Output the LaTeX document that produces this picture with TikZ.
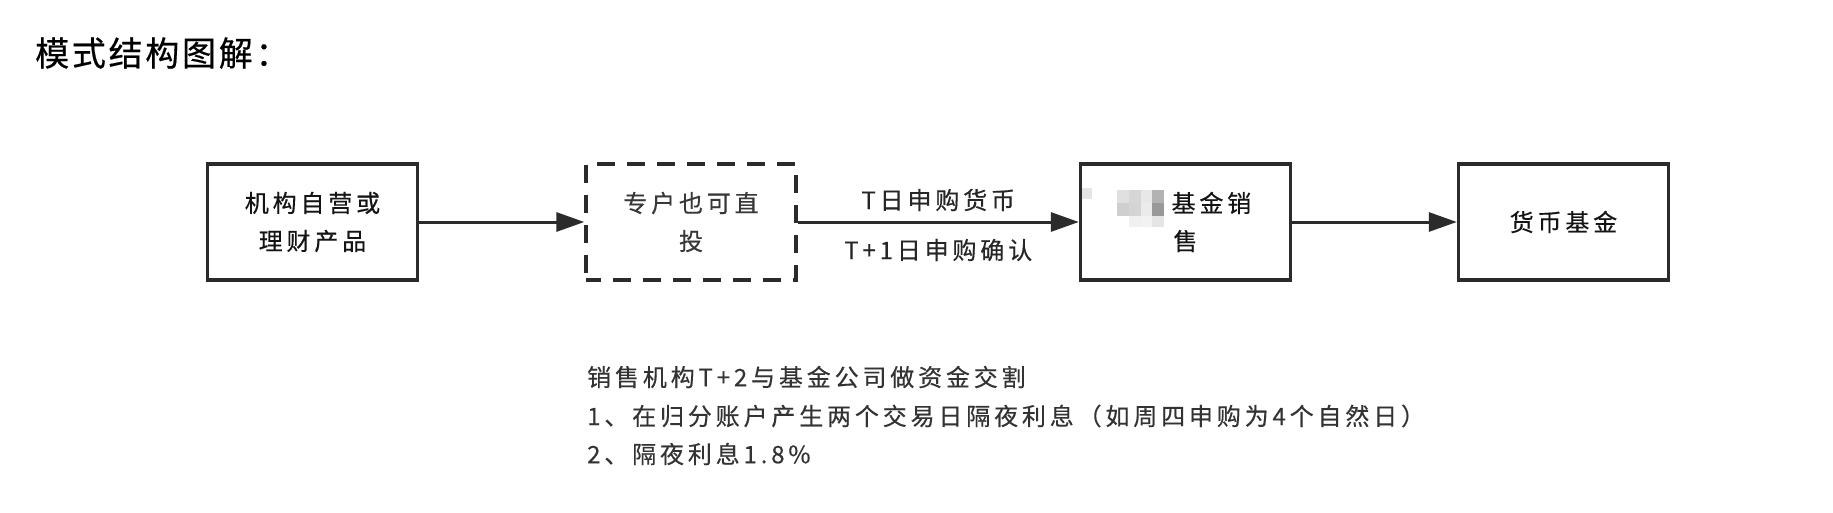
\documentclass[tikz,border=0pt]{standalone}
\usepackage{fontspec}
\newfontfamily\cjk{Noto Sans CJK SC}
\newfontfamily\cjksp{Noto Sans CJK SC}[LetterSpace=16,FakeBold=0.4]
\newfontfamily\cjkti{Noto Sans CJK SC}[LetterSpace=8,FakeBold=0.5]
\usetikzlibrary{arrows.meta}
\definecolor{boxc}{HTML}{2B2B2B}
\begin{document}
\begin{tikzpicture}[x=1pt,y=-1pt,
  box/.style={draw=boxc, line width=3.4pt, minimum width=210pt, minimum height=116pt, inner sep=0pt, align=center, font=\cjksp\fontsize{24}{38}\selectfont, text=black!92},
  dbox/.style={box, dash pattern=on 18pt off 12pt, dash phase=3pt, text=black!78},
  conn/.style={draw=boxc, line width=3pt, -{Triangle[length=28pt,width=19pt]}},
  lab/.style={font=\cjksp\fontsize{24}{28}\selectfont, text=black!85, inner sep=0pt},
  note/.style={anchor=west, font=\cjksp\fontsize{24}{30}\selectfont, text=black!80, inner sep=0pt}]
\useasboundingbox (0,0) rectangle (1833,513);
\fill[white] (0,0) rectangle (1833,513);

\node[anchor=west, font=\cjkti\fontsize{34}{40}\selectfont, inner sep=0pt] (title) at (35,53) {模式结构图解：};

\node[box] (a) at (312.5,222) {机构自营或\\理财产品};
\node[dbox] (b) at (691,222) {专户也可直\\投};
\node[box] (c) at (1185.5,222) {\phantom{基金}基金销\\售};
\node[box] (d) at (1563.5,222) {货币基金};

% pixelated (redacted) patch inside box c
\fill[black!12] (1117,190) rectangle (1129,203);
\fill[black!16] (1129,190) rectangle (1141,203);
\fill[black!9]  (1141,190) rectangle (1152,203);
\fill[black!30] (1152,190) rectangle (1164,203);
\fill[black!19] (1117,203) rectangle (1129,216);
\fill[black!17] (1129,203) rectangle (1141,216);
\fill[black!8]  (1141,203) rectangle (1152,216);
\fill[black!40] (1152,203) rectangle (1164,216);
\fill[black!6]  (1129,216) rectangle (1141,227);
\fill[black!5]  (1141,216) rectangle (1152,227);
\fill[black!10] (1152,216) rectangle (1164,227);
\fill[black!10] (1082,188) rectangle (1092,199);

\draw[conn] (a.east) -- (b.west);
\draw[conn] (b.east) -- (c.west)
  node[lab, midway, yshift=22pt] (l1) {T日申购货币}
  node[lab, midway, yshift=-28pt] (l2) {T+1日申购确认};
\draw[conn] (c.east) -- (d.west);

\node[note] (n1) at (587,377) {销售机构T+2与基金公司做资金交割};
\node[note] (n2) at (587,416) {1、在归分账户产生两个交易日隔夜利息（如周四申购为4个自然日）};
\node[note] (n3) at (587,454) {2、隔夜利息1.8\%};
\end{tikzpicture}
\end{document}
